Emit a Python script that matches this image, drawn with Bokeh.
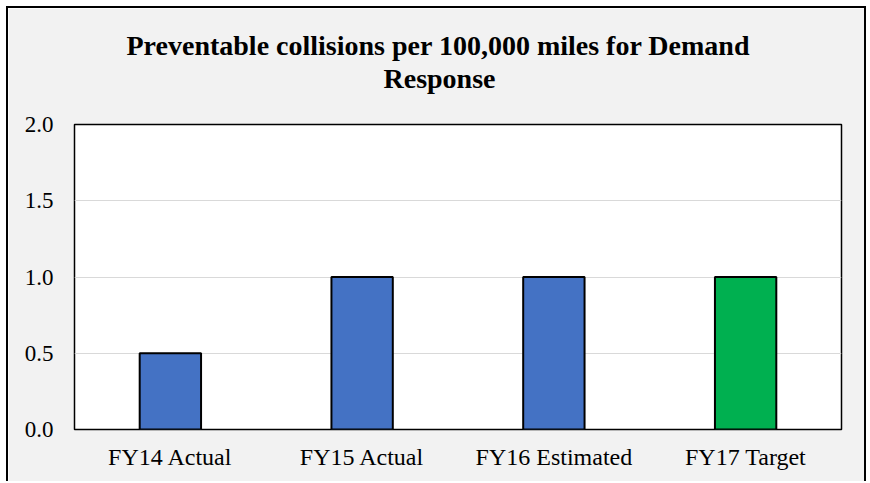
from bokeh.plotting import figure
from bokeh.models import Range1d, FactorRange, Title, FixedTicker, NumeralTickFormatter, ColumnDataSource
from bokeh.embed import file_html
from bokeh.resources import INLINE

categories = ["FY14 Actual", "FY15 Actual", "FY16 Estimated", "FY17 Target"]
values = [0.5, 1.0, 1.0, 1.0]
colors = ["#4472c4", "#4472c4", "#4472c4", "#00b050"]
y_ticks = [0.0, 0.5, 1.0, 1.5, 2.0]
title_lines = ["Preventable collisions per 100,000 miles for Demand", "Response"]

source = ColumnDataSource(dict(cat=categories, val=values, color=colors))

p = figure(width=860, height=475, x_range=FactorRange(*categories), y_range=Range1d(0, 2),
           output_backend="svg", toolbar_location=None,
           min_border_left=66, min_border_right=27, min_border_top=116, min_border_bottom=54)
p.background_fill_color = "white"
p.border_fill_color = "#f2f2f2"
p.outline_line_color = "black"
p.outline_line_width = 1.5
p.styles = {"border-top": "2px solid black", "border-left": "2px solid black",
            "border-right": "2px solid black", "margin-left": "6px", "margin-top": "6px"}

p.vbar(x="cat", top="val", width=0.32, bottom=0, fill_color="color", line_color="black",
       line_width=2, source=source)

p.xgrid.grid_line_color = None
p.ygrid.grid_line_color = "#d9d9d9"
p.ygrid.grid_line_width = 1
p.yaxis.ticker = FixedTicker(ticks=y_ticks)
p.yaxis.formatter = NumeralTickFormatter(format="0.0")

for ax in (p.xaxis, p.yaxis):
    ax.axis_line_color = None
    ax.major_tick_line_color = None
    ax.minor_tick_line_color = None
    ax.major_tick_in = 0
    ax.major_tick_out = 0
    ax.major_label_text_font = "Liberation Serif"
    ax.major_label_text_color = "black"
p.yaxis.major_label_text_font_size = "23px"
p.xaxis.major_label_text_font_size = "24px"
p.yaxis.major_label_standoff = 21
p.xaxis.major_label_standoff = 14

def style_title(t, offset, standoff):
    t.align = "left"
    t.offset = offset
    t.standoff = standoff
    t.text_font = "Liberation Serif"
    t.text_font_style = "bold"
    t.text_font_size = "28px"
    t.text_color = "black"

p.title.text = title_lines[0]
style_title(p.title, 52, 0)

# trailing empty line keeps a gap between the title block and the plot frame
t2 = Title(text=title_lines[1] + "\n")
style_title(t2, 309, 0)
p.add_layout(t2, "above")

open("out.html", "w").write(file_html(p, INLINE))
